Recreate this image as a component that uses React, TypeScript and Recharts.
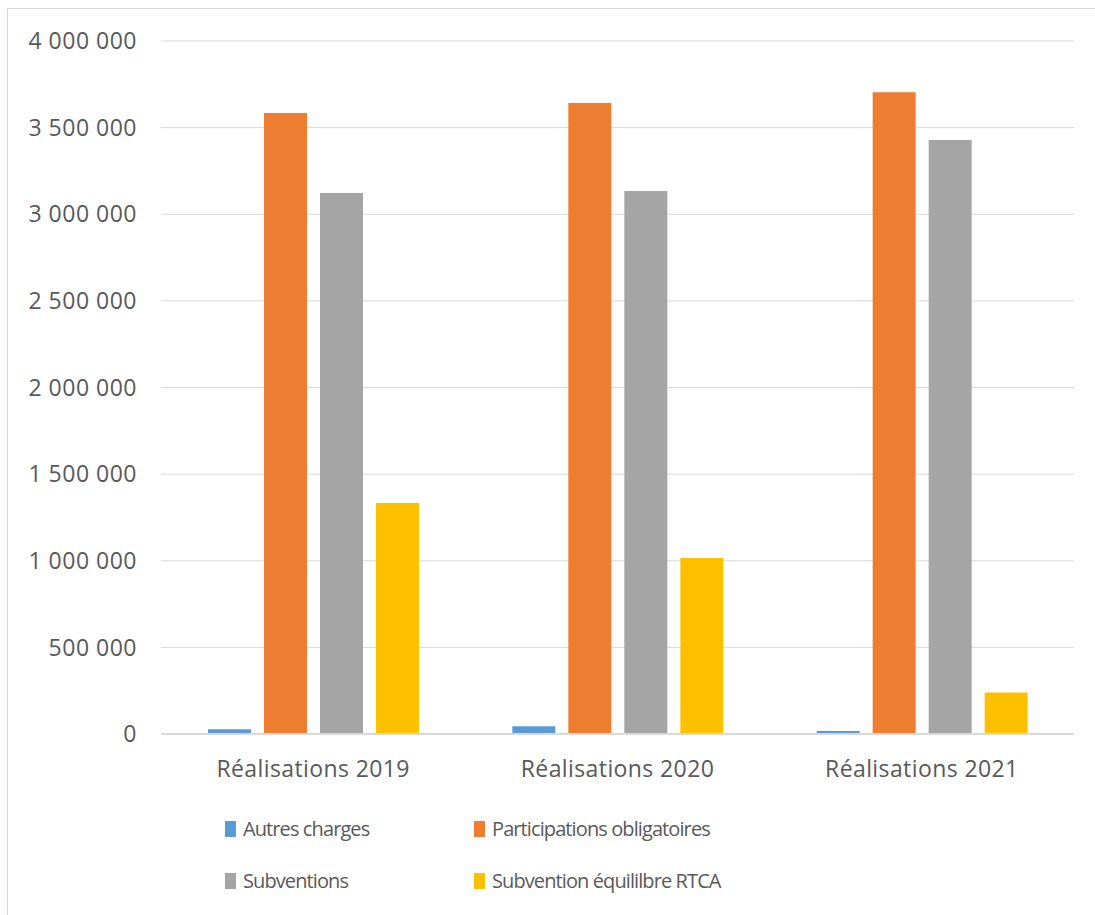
import { Bar, BarChart, CartesianGrid, XAxis, YAxis } from "recharts"

const categories = ["Réalisations 2019", "Réalisations 2020", "Réalisations 2021"]
const autresCharges = [28000, 45000, 17000]
const participations = [3584000, 3642000, 3704000]
const subventions = [3123000, 3134000, 3429000]
const subventionRtca = [1333000, 1016000, 240000]
const yTicks = [0, 500000, 1000000, 1500000, 2000000, 2500000, 3000000, 3500000, 4000000]

const series = [
  { key: "autres", name: "Autres charges", color: "#5b9bd5", values: autresCharges },
  { key: "participations", name: "Participations obligatoires", color: "#ed7d31", values: participations },
  { key: "subventions", name: "Subventions", color: "#a5a5a5", values: subventions },
  { key: "rtca", name: "Subvention équililbre RTCA", color: "#ffc000", values: subventionRtca },
]

const data = categories.map((name, i) => {
  const row: Record<string, string | number> = { name }
  series.forEach((s) => {
    row[s.key] = s.values[i]
  })
  return row
})

const font = "'Open Sans', sans-serif"
const textColor = "#595959"

const formatNumber = (v: number) => String(v).replace(/\B(?=(\d{3})+(?!\d))/g, " ")

// legend laid out as a 2x2 grid like the Excel original
const legendPos = [
  { left: 225, top: 820 },
  { left: 474, top: 820 },
  { left: 225, top: 872 },
  { left: 474, top: 872 },
]

export default function App() {
  return (
    <div style={{ position: "absolute", left: 0, top: 0, width: 1095, height: 915, background: "#fff", fontFamily: font }}>
      <div
        style={{
          position: "absolute",
          left: 7,
          top: 8,
          width: 1088,
          height: 907,
          borderTop: "1px solid #d9d9d9",
          borderLeft: "1px solid #d9d9d9",
          boxSizing: "border-box",
        }}
      />
      <div style={{ position: "absolute", left: 0, top: 0 }}>
        <BarChart
          width={1095}
          height={915}
          data={data}
          margin={{ top: 41, right: 21, left: 0, bottom: 121 }}
          barCategoryGap={47}
          barGap={13}
        >
          <CartesianGrid vertical={false} stroke="#d9d9d9" />
          <XAxis
            dataKey="name"
            height={60}
            tickLine={false}
            tickSize={0}
            tickMargin={27}
            axisLine={{ stroke: "#d9d9d9", strokeWidth: 2 }}
            tick={{ fill: textColor, fontSize: 23, fontFamily: font, letterSpacing: 0.4 }}
          />
          <YAxis
            width={161}
            domain={[0, 4000000]}
            ticks={yTicks}
            axisLine={false}
            tickLine={false}
            tickSize={0}
            tickMargin={24}
            tickFormatter={formatNumber}
            tick={{ fill: textColor, fontSize: 23, fontFamily: font, letterSpacing: 0.5 }}
          />
          {series.map((s) => (
            <Bar key={s.key} dataKey={s.key} name={s.name} fill={s.color} isAnimationActive={false} />
          ))}
        </BarChart>
      </div>
      {series.map((s, i) => (
        <div
          key={s.key}
          style={{
            position: "absolute",
            left: legendPos[i].left,
            top: legendPos[i].top,
            display: "flex",
            alignItems: "center",
            color: textColor,
            fontSize: 20,
            letterSpacing: -0.9,
            lineHeight: "18px",
            whiteSpace: "nowrap",
          }}
        >
          <span style={{ display: "inline-block", width: 11, height: 16, background: s.color, marginRight: 7 }} />
          {s.name}
        </div>
      ))}
    </div>
  )
}
